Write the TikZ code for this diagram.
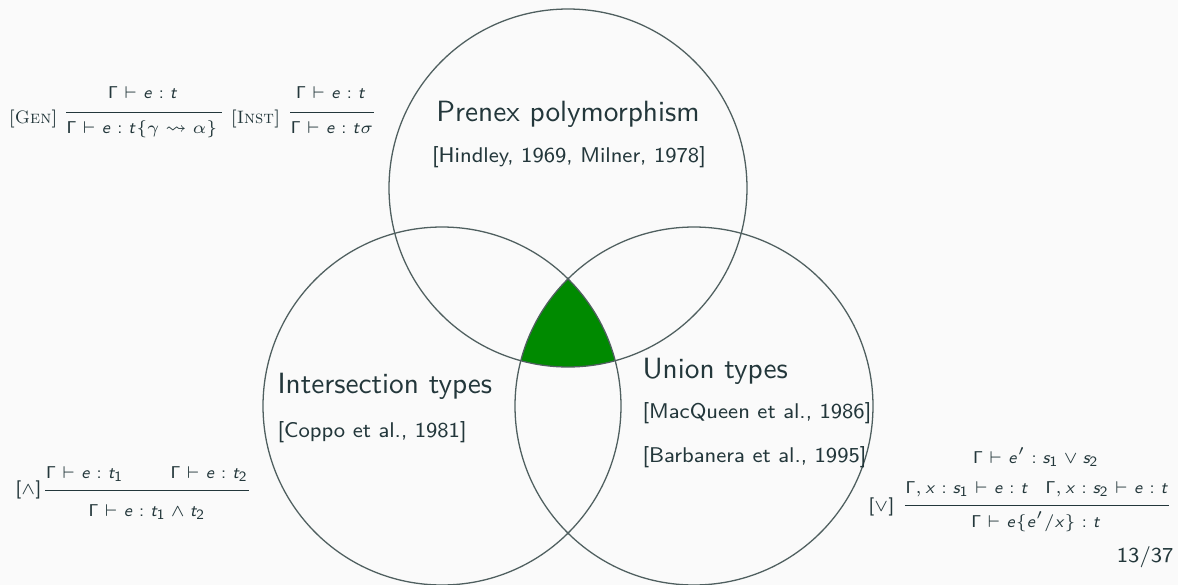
\documentclass[tikz,border=0pt]{standalone}
\usepackage{amsmath,amssymb}
\SetSymbolFont{operators}{normal}{OT1}{cmss}{m}{n}
\DeclareMathAlphabet{\mathsfit}{OT1}{cmss}{m}{sl}
\newcommand\V[1]{\mathsfit{#1}}
\definecolor{mtext}{HTML}{23373B}
\definecolor{bgc}{HTML}{FAFAFA}
\definecolor{circc}{HTML}{4F5F5F}
\definecolor{vgreen}{HTML}{008A00}
\tikzset{
  title/.style={font=\sffamily\fontsize{10.25}{12}\selectfont, text=mtext, inner sep=0pt},
  cite/.style={font=\sffamily\fontsize{7.45}{9}\selectfont, text=mtext, inner sep=0pt},
  rulet/.style={font=\sffamily\fontsize{6.4}{7.5}\selectfont, text=mtext, inner sep=0pt},
  rlabel/.style={font=\rmfamily\fontsize{6.3}{7.5}\selectfont, text=mtext, inner sep=0pt},
  rbar/.style={draw=mtext, line width=0.25pt},
  venn/.style={draw=circc, line width=0.45pt},
}
\begin{document}
\begin{tikzpicture}[x=0.35pt,y=-0.35pt]
\path[fill=bgc] (0,0) rectangle (1178,585);
\useasboundingbox (0,0) rectangle (1178,585);
\coordinate (T) at (568,188);
\coordinate (L) at (442,406);
\coordinate (R) at (694,406);
\begin{scope}
  \clip (T) circle[radius=62.65pt];
  \clip (L) circle[radius=62.65pt];
  \fill[vgreen] (R) circle[radius=62.65pt];
\end{scope}
\draw[venn] (T) circle[radius=62.65pt];
\draw[venn] (L) circle[radius=62.65pt];
\draw[venn] (R) circle[radius=62.65pt];

% texts
\node[title, anchor=base] (pt) at (568,121) {Prenex polymorphism};
\node[cite, anchor=base] (pc) at (569,162) {[Hindley, 1969, Milner, 1978]};
\node[title, anchor=base west] (it) at (277,393) {Intersection types};
\node[cite, anchor=base west] (ic) at (277,437) {[Coppo et al., 1981]};
\node[title, anchor=base west] (ut) at (642,378) {Union types};
\node[cite, anchor=base west] (uc1) at (642,418) {[MacQueen et al., 1986]};
\node[cite, anchor=base west] (uc2) at (642,462) {[Barbanera et al., 1995]};
\node[cite, anchor=base east] (pg) at (1174,562) {13/37};

% Gen rule
\node[rlabel, anchor=base west] (genl) at (8,123) {[\textsc{Gen}]};
\node[rulet, anchor=base] (genn) at (143,98) {$\Gamma \vdash \V{e} : \V{t}$};
\node[rulet, anchor=base] (gend) at (142,133) {$\Gamma \vdash \V{e} : \V{t}\{\gamma \rightsquigarrow \alpha\}$};
\draw[rbar] (gend.west |- 0,112) -- ([xshift=1.5pt]gend.east |- 0,112);
% Inst rule
\node[rlabel, anchor=base west] (instl) at (230,123) {[\textsc{Inst}]};
\node[rulet, anchor=base] (instn) at (331,98) {$\Gamma \vdash \V{e} : \V{t}$};
\node[rulet, anchor=base] (instd) at (332,133) {$\Gamma \vdash \V{e} : \V{t}\sigma$};
\draw[rbar] (instd.west |- 0,112) -- (instd.east |- 0,112);
% And rule
\node[rulet, anchor=base west] (andl) at (15,494) {[$\wedge$]};
\node[rulet, anchor=base] (andn) at (147,478) {$\Gamma \vdash \V{e} : \V{t}_1 \hspace{16.5pt} \Gamma \vdash \V{e} : \V{t}_2$};
\node[rulet, anchor=base] (andd) at (147,516) {$\Gamma \vdash \V{e} : \V{t}_1 \wedge \V{t}_2$};
\draw[rbar] (andn.west |- 0,490) -- (andn.east |- 0,490);
% Or rule
\node[rulet, anchor=base west] (orl) at (868,511) {[$\vee$]};
\node[rulet, anchor=base] (orp1) at (1036,463) {$\Gamma \vdash \V{e}' : \V{s}_1 \vee \V{s}_2$};
\node[rulet, anchor=base] (orp2) at (1037,493) {$\Gamma, \V{x} : \V{s}_1 \vdash \V{e} : \V{t} \hspace{6pt} \Gamma, \V{x} : \V{s}_2 \vdash \V{e} : \V{t}$};
\node[rulet, anchor=base] (ord) at (1036,527) {$\Gamma \vdash \V{e}\{\V{e}'/\V{x}\} : \V{t}$};
\draw[rbar] (orp2.west |- 0,505) -- (orp2.east |- 0,505);
\end{tikzpicture}
\end{document}
